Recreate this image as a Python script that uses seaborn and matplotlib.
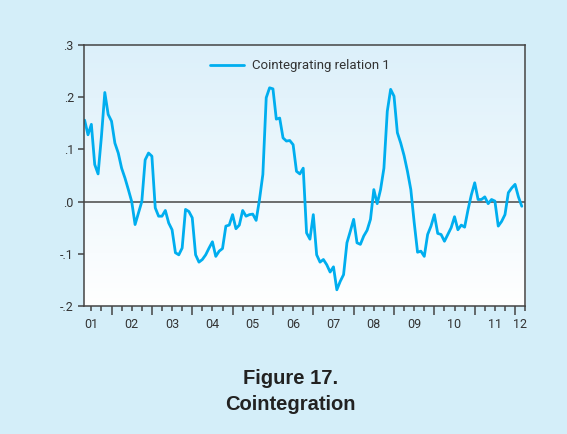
import numpy as np
import pandas as pd
import matplotlib
matplotlib.use("Agg")
import matplotlib.pyplot as plt
import matplotlib.transforms as mtransforms
from matplotlib.colors import LinearSegmentedColormap
import seaborn as sns

# monthly observations, May 2001 - Mar 2012
start_month = "2001-05-01"
relation_1 = [
    0.156, 0.128, 0.148, 0.071, 0.053, 0.125, 0.209, 0.167, 0.154, 0.112,
    0.093, 0.064, 0.045, 0.023, 0.000, -0.044, -0.022, 0.000, 0.080, 0.093,
    0.087, -0.012, -0.028, -0.028, -0.017, -0.041, -0.054, -0.098, -0.102, -0.089,
    -0.015, -0.019, -0.031, -0.102, -0.116, -0.111, -0.102, -0.089, -0.077, -0.105,
    -0.095, -0.090, -0.047, -0.045, -0.025, -0.052, -0.045, -0.017, -0.028, -0.025,
    -0.024, -0.036, 0.004, 0.052, 0.199, 0.218, 0.216, 0.158, 0.160, 0.122,
    0.116, 0.117, 0.109, 0.058, 0.053, 0.064, -0.060, -0.072, -0.025, -0.102,
    -0.116, -0.111, -0.121, -0.135, -0.125, -0.169, -0.153, -0.140, -0.079, -0.057,
    -0.034, -0.079, -0.082, -0.066, -0.055, -0.034, 0.023, -0.004, 0.023, 0.064,
    0.173, 0.215, 0.202, 0.132, 0.112, 0.088, 0.058, 0.023, -0.040, -0.097,
    -0.095, -0.105, -0.063, -0.047, -0.025, -0.061, -0.063, -0.076, -0.063, -0.050,
    -0.029, -0.054, -0.045, -0.049, -0.016, 0.013, 0.036, 0.004, 0.004, 0.009,
    -0.004, 0.004, 0.001, -0.047, -0.038, -0.025, 0.017, 0.026, 0.033, 0.009,
    -0.009,
]
years = list(range(2001, 2013))
year_labels = ["01", "02", "03", "04", "05", "06", "07", "08", "09", "10", "11", "12"]
y_ticks = [-0.2, -0.1, 0.0, 0.1, 0.2, 0.3]
y_tick_labels = ["-.2", "-.1", ".0", ".1", ".2", ".3"]
series_name = "Cointegrating relation 1"
title_lines = ["Figure 17.", "Cointegration"]

dates = pd.date_range(start_month, periods=len(relation_1), freq="MS")
df = pd.DataFrame({
    "t": dates.year + (dates.month - 1) / 12.0,
    "value": relation_1,
})

sns.set_style("white")
plt.rcParams["font.family"] = ["Roboto", "DejaVu Sans"]

bg = "#d4eef9"
line_color = "#00aeef"
axis_color = "#444444"

fig = plt.figure(figsize=(5.67, 4.34), dpi=100, facecolor=bg)
ax = fig.add_axes([0.1476, 0.295, 0.7786, 0.6013])

# plot area: light blue at the top fading to white
grad = LinearSegmentedColormap.from_list("bgfade", ["#ffffff", "#dcf0fa"])
ax.imshow(np.linspace(0, 1, 256).reshape(-1, 1), cmap=grad, origin="lower",
          extent=[0, 1, 0, 1], transform=ax.transAxes, aspect="auto", zorder=0)

ax.axhline(0, color="#555555", linewidth=1.2, zorder=1)
sns.lineplot(data=df, x="t", y="value", ax=ax, color=line_color,
             linewidth=2.0, label=series_name, zorder=2)

x_min, x_max = 2001.31, 2012.25
ax.set_xlim(x_min, x_max)
ax.set_ylim(-0.2, 0.3)

ax.set_yticks(y_ticks)
ax.set_yticklabels(y_tick_labels)
ax.set_xticks(years[1:])
ax.set_xticklabels([])
ax.set_xticks([y + q / 4 for y in range(2001, 2013) for q in (1, 2, 3)
               if x_min <= y + q / 4 <= x_max], minor=True)
ax.tick_params(axis="x", which="major", length=6.5, width=1.1, color=axis_color,
               direction="out", bottom=True)
ax.tick_params(axis="x", which="minor", length=3.3, width=1.1, color=axis_color,
               direction="out", bottom=True)
ax.tick_params(axis="y", length=4, width=1.1, color=axis_color, direction="out",
               left=True, labelsize=9, labelcolor="#333333", pad=3)

# year labels sit mid-year, the last one in the middle of what is shown
label_pos = [y + 0.5 for y in years[:-1]] + [(years[-1] + x_max) / 2]
trans = mtransforms.blended_transform_factory(ax.transData, ax.transAxes)
for pos, lab in zip(label_pos, year_labels):
    ax.text(pos, -0.045, lab, transform=trans, ha="center", va="top",
            fontsize=9, color="#333333")

for side in ["left", "right", "top", "bottom"]:
    ax.spines[side].set_visible(True)
    ax.spines[side].set_color(axis_color)
    ax.spines[side].set_linewidth(1.1)

ax.set_xlabel("")
ax.set_ylabel("")
leg = ax.legend(loc="upper center", frameon=False, fontsize=9.5,
                handlelength=2.6, handletextpad=0.6, bbox_to_anchor=(0.49, 0.99))
for t in leg.get_texts():
    t.set_color("#333333")

for line, ypix in zip(title_lines, [378, 404]):
    fig.text(0.512, 1 - ypix / 434, line, ha="center", va="center",
             fontsize=14.5, fontweight="bold", color="#222222",
             family=["Liberation Sans", "DejaVu Sans"])

fig.savefig("out.png", dpi=100, facecolor=bg)
